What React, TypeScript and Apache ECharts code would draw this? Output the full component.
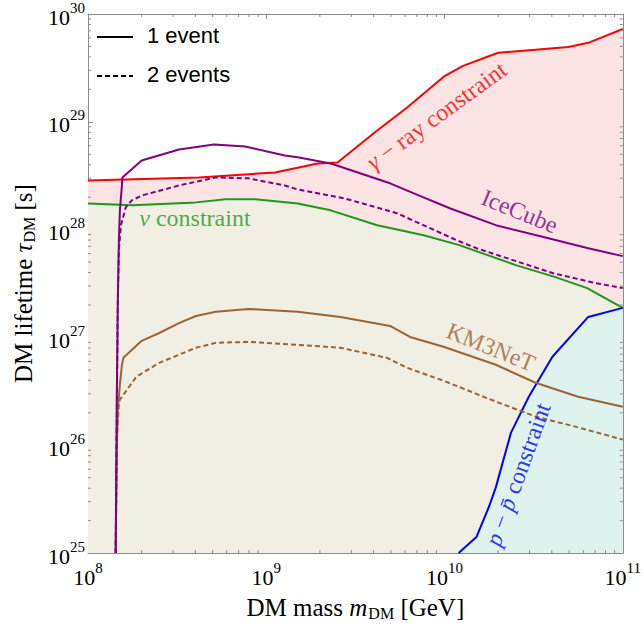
import React, { useEffect, useRef } from 'react';
import * as echarts from 'echarts';

// [DM mass (GeV), DM lifetime (s)]
const gammaRay: [number, number][] = [
  [1e8, 2.86e28], [4.19e8, 3.05e28], [1.12e9, 3.39e28], [1.94e9, 4.11e28], [2.51e9, 4.2e28],
  [4.19e9, 8.3e28], [6.15e9, 1.35e29], [9.9e9, 2.62e29], [1.27e10, 3.3e29], [2.0e10, 4.37e29],
  [4.95e10, 4.95e29], [6.4e10, 5.4e29], [1e11, 7.26e29],
];
const nuConstraint: [number, number][] = [
  [1e8, 1.75e28], [1.78e8, 1.68e28], [4.03e8, 1.79e28], [5.92e8, 1.91e28], [8.69e8, 1.91e28],
  [1.5e9, 1.75e28], [2.3e9, 1.51e28], [4.19e9, 1.1e28], [7.64e9, 8.87e27], [1.21e10, 7.18e27],
  [1.45e10, 6.46e27], [2.51e10, 4.69e27], [4.19e10, 3.63e27], [6.31e10, 2.87e27], [1e11, 1.88e27],
];
const ppbarConstraint: [number, number][] = [
  [1.2e10, 1e25], [1.51e10, 1.41e25], [1.78e10, 2.72e25], [1.94e10, 4.07e25], [2.36e10, 1.31e26],
  [2.97e10, 2.82e26], [4.03e10, 6.62e26], [6.4e10, 1.55e27], [1e11, 1.88e27],
];
const iceCube1: [number, number][] = [
  [1.43e8, 1e25], [1.45e8, 2.65e26], [1.47e8, 2.23e27], [1.49e8, 7.98e27], [1.51e8, 1.51e28],
  [1.55e8, 2.57e28], [1.56e8, 3.05e28], [2.0e8, 4.38e28], [3.24e8, 5.53e28], [5.08e8, 6.15e28],
  [7.64e8, 5.9e28], [1.27e9, 4.87e28], [1.5e9, 4.7e28], [2.3e9, 4.11e28], [4.95e9, 2.69e28],
  [6.73e9, 2.17e28], [1.07e10, 1.58e28], [1.94e10, 1.1e28], [3.83e10, 8.32e27], [6.4e10, 6.73e27],
  [1e11, 5.68e27],
];
const iceCube2: [number, number][] = [
  [1.43e8, 1e25], [1.45e8, 1.73e26], [1.47e8, 2.23e27], [1.49e8, 6.46e27], [1.53e8, 1.1e28],
  [1.63e8, 1.61e28], [1.76e8, 1.87e28], [2.02e8, 2.08e28], [3.24e8, 2.57e28], [5.21e8, 3.05e28],
  [7.94e8, 2.99e28], [1.27e9, 2.57e28], [1.5e9, 2.36e28], [2.75e9, 1.95e28], [5.41e9, 1.42e28],
  [1.17e10, 7.98e27], [1.51e10, 6.73e27], [4.03e10, 3.96e27], [6.99e10, 3.2e27], [1e11, 2.87e27],
];
const km3net1: [number, number][] = [
  [1.43e8, 1e25], [1.45e8, 9.14e25], [1.47e8, 2.14e26], [1.51e8, 3.65e26], [1.55e8, 5.58e26],
  [1.58e8, 6.49e26], [2.0e8, 9.31e26], [2.51e8, 1.1e27], [3.24e8, 1.36e27], [4.03e8, 1.58e27],
  [5.21e8, 1.73e27], [7.94e8, 1.84e27], [1.5e9, 1.73e27], [2.61e9, 1.55e27], [4.95e9, 1.28e27],
  [6.4e9, 1.01e27], [9.87e9, 8.19e26], [1.94e10, 5.58e26], [3.24e10, 3.8e26], [5.62e10, 2.82e26],
  [1e11, 2.28e26],
];
const km3net2: [number, number][] = [
  [1.43e8, 1e25], [1.45e8, 1.13e26], [1.49e8, 2.38e26], [1.51e8, 2.65e26], [1.87e8, 4.33e26],
  [2.51e8, 5.82e26], [4.03e8, 8.02e26], [5.21e8, 8.91e26], [7.94e8, 9.1e26], [1.5e9, 8.55e26],
  [2.61e9, 8.02e26], [4.76e9, 6.47e26], [6.15e9, 5.24e26], [9.87e9, 3.97e26], [1.94e10, 2.54e26],
  [3.24e10, 1.85e26], [5.41e10, 1.49e26], [1e11, 1.13e26],
];

const RED = '#ff0000';
const GREEN = '#1a9a1a';
const BLUE = '#0000ff';
const PURPLE = '#800080';
const BROWN = '#996633';
const AXIS = '#8c8c8c';
const SERIF = '"Liberation Serif", "Times New Roman", serif';
const SANS = '"Liberation Sans", Arial, sans-serif';

const textLabels = [
  { value: [9.03e9, 1.14e29], text: '{i|γ} − ray constraint', color: RED, rotate: 36 },
  { value: [3.98e8, 1.27e28], text: '{i|ν} constraint', color: GREEN, rotate: 0 },
  { value: [2.64e10, 1.48e28], text: 'IceCube', color: PURPLE, rotate: -22 },
  { value: [1.82e10, 8.15e26], text: 'KM3NeT', color: BROWN, rotate: -22 },
  { value: [2.58e10, 5.37e25], text: '{i|p} − {i|p̄} constraint', color: BLUE, rotate: 70 },
];

export default function App() {
  const ref = useRef<HTMLDivElement>(null);
  useEffect(() => {
    if (!ref.current) return;
    const chart = echarts.init(ref.current, undefined, { renderer: 'svg' });
    const xMinor: number[] = [];
    for (let n = 8; n < 11; n++) for (let k = 2; k <= 9; k++) xMinor.push(k * Math.pow(10, n));
    const yMinor: number[] = [];
    for (let n = 25; n < 30; n++) for (let k = 2; k <= 9; k++) yMinor.push(k * Math.pow(10, n));

    const expLabel = (v: number) => `{b|10}{s|${Math.round(Math.log10(v))}}`;
    const tickRich = {
      b: { fontFamily: SERIF, fontSize: 22, lineHeight: 28, verticalAlign: 'bottom', color: '#000' },
      s: { fontFamily: SERIF, fontSize: 15, lineHeight: 15, verticalAlign: 'top', color: '#000' },
    };
    const titleRich = {
      n: { fontFamily: SERIF, fontSize: 25, lineHeight: 26, verticalAlign: 'top', color: '#000' },
      i: { fontFamily: SERIF, fontStyle: 'italic', fontSize: 25, lineHeight: 26, verticalAlign: 'top', color: '#000' },
      sub: { fontFamily: SERIF, fontSize: 16, lineHeight: 16, padding: [12, 0, 0, 1], verticalAlign: 'bottom', color: '#000' },
    };
    const axisCommon = {
      type: 'log',
      logBase: 10,
      axisLine: { show: true, lineStyle: { color: AXIS, width: 1 } },
      axisTick: { show: true, inside: true, length: 5, lineStyle: { color: AXIS } },
      splitLine: { show: false },
      minorTick: { show: false },
    };
    const line = (data: [number, number][], color: string, dashed = false) => ({
      type: 'line',
      data,
      showSymbol: false,
      symbol: 'none',
      silent: true,
      lineStyle: { color, width: 2, type: dashed ? [5, 3] : 'solid' },
      z: 3,
    });
    const area = (data: [number, number][], color: string) => ({
      type: 'line',
      data,
      showSymbol: false,
      symbol: 'none',
      silent: true,
      lineStyle: { opacity: 0, width: 0 },
      areaStyle: { color, opacity: 1, origin: 'start' },
      z: 1,
    });

    chart.setOption({
      animation: false,
      backgroundColor: '#fff',
      grid: { left: 88, right: 16, top: 13, bottom: 72 },
      xAxis: [
        {
          ...axisCommon,
          position: 'bottom',
          min: 1e8,
          max: 1e11,
          axisLabel: { show: true, margin: 7, formatter: expLabel, rich: tickRich, showMinLabel: true, showMaxLabel: true },
          name: '{n|DM mass }{i|m}{sub|DM}{n| [GeV]}',
          nameLocation: 'middle',
          nameGap: 41,
          nameTextStyle: { rich: titleRich },
        },
        {
          ...axisCommon,
          position: 'top',
          min: 1e8,
          max: 1e11,
          axisLabel: { show: false },
        },
      ],
      yAxis: [
        {
          ...axisCommon,
          position: 'left',
          min: 1e25,
          max: 1e30,
          axisLabel: { show: true, margin: 3, formatter: expLabel, rich: tickRich, showMinLabel: true, showMaxLabel: true },
          name: '{n|DM lifetime }{i|τ}{sub|DM}{n| [s]}',
          nameLocation: 'middle',
          nameGap: 51,
          nameRotate: 90,
          nameTextStyle: { rich: titleRich },
        },
        {
          ...axisCommon,
          position: 'right',
          min: 1e25,
          max: 1e30,
          axisLabel: { show: false },
        },
      ],
      graphic: [
        { type: 'line', shape: { x1: 97, y1: 37, x2: 133, y2: 37 }, style: { stroke: '#000', lineWidth: 2 }, z: 10 },
        { type: 'text', x: 147, y: 35, style: { text: '1 event', font: `22px ${SANS}`, fill: '#000', verticalAlign: 'middle' }, z: 10 },
        { type: 'line', shape: { x1: 97, y1: 76, x2: 133, y2: 76 }, style: { stroke: '#000', lineWidth: 2, lineDash: [5, 3] }, z: 10 },
        { type: 'text', x: 147, y: 74, style: { text: '2 events', font: `22px ${SANS}`, fill: '#000', verticalAlign: 'middle' }, z: 10 },
      ],
      series: [
        area(gammaRay, '#fde4e4'),
        area(nuConstraint, '#f1eee4'),
        area(ppbarConstraint, '#dff3ee'),
        line(gammaRay, RED),
        line(nuConstraint, GREEN),
        line(ppbarConstraint, BLUE),
        line(km3net1, BROWN),
        line(km3net2, BROWN, true),
        line(iceCube1, PURPLE),
        line(iceCube2, PURPLE, true),
        {
          type: 'scatter',
          silent: true,
          symbolSize: 0,
          z: 5,
          data: textLabels.map((t) => ({
            value: t.value,
            label: {
              show: true,
              position: 'inside',
              formatter: t.text,
              rotate: t.rotate,
              color: t.color,
              fontFamily: SERIF,
              fontSize: 24,
              rich: { i: { fontFamily: SERIF, fontStyle: 'italic', fontSize: 24, color: t.color } },
            },
          })),
        },
        {
          type: 'custom',
          silent: true,
          z: 6,
          clip: false,
          data: xMinor.map((v) => [v, 1e25]),
          renderItem: (params: any, api: any) => {
            const p = api.coord([api.value(0), 1e25]);
            const cs = params.coordSys;
            const st = { stroke: AXIS, lineWidth: 1 };
            return {
              type: 'group',
              children: [
                { type: 'line', shape: { x1: p[0], y1: cs.y + cs.height, x2: p[0], y2: cs.y + cs.height - 3 }, style: st },
                { type: 'line', shape: { x1: p[0], y1: cs.y, x2: p[0], y2: cs.y + 3 }, style: st },
              ],
            };
          },
        },
        {
          type: 'custom',
          silent: true,
          z: 6,
          clip: false,
          data: yMinor.map((v) => [1e8, v]),
          renderItem: (params: any, api: any) => {
            const p = api.coord([1e8, api.value(1)]);
            const cs = params.coordSys;
            const st = { stroke: AXIS, lineWidth: 1 };
            return {
              type: 'group',
              children: [
                { type: 'line', shape: { x1: cs.x, y1: p[1], x2: cs.x + 3, y2: p[1] }, style: st },
                { type: 'line', shape: { x1: cs.x + cs.width, y1: p[1], x2: cs.x + cs.width - 3, y2: p[1] }, style: st },
              ],
            };
          },
        },
      ],
    });
    return () => chart.dispose();
  }, []);
  return <div ref={ref} style={{ position: 'absolute', left: 0, top: 0, width: 644, height: 626 }} />;
}
